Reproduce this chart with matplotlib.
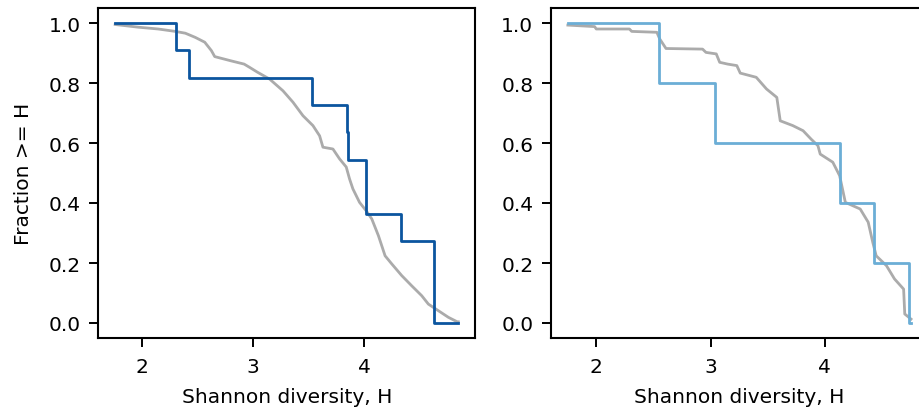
import matplotlib
matplotlib.use("Agg")
import matplotlib.pyplot as plt

# gray reference curves traced as (H, fraction >= H) vertices
left_gray_h = [1.758, 1.967, 2.146, 2.30, 2.39, 2.48, 2.565, 2.625, 2.655, 2.80, 2.92, 2.97,
               3.04, 3.15, 3.27, 3.36, 3.45, 3.54, 3.60, 3.63, 3.72, 3.78, 3.84, 3.87,
               3.90, 3.96, 4.02, 4.07, 4.13, 4.19, 4.25, 4.34, 4.43, 4.52, 4.58, 4.67,
               4.76, 4.84, 4.85]
left_gray_f = [0.995, 0.986, 0.980, 0.972, 0.966, 0.952, 0.936, 0.908, 0.888, 0.874, 0.863, 0.852,
               0.836, 0.813, 0.774, 0.736, 0.691, 0.658, 0.624, 0.586, 0.580, 0.547, 0.520, 0.480,
               0.447, 0.402, 0.374, 0.347, 0.291, 0.224, 0.197, 0.158, 0.124, 0.091, 0.063, 0.041,
               0.019, 0.004, 0.004]

right_gray_h = [1.751, 1.985, 2.0, 2.29, 2.31, 2.53, 2.555, 2.61, 2.93, 2.96, 3.05, 3.08,
                3.15, 3.23, 3.26, 3.40, 3.49, 3.58, 3.61, 3.72, 3.81, 3.88, 3.94, 3.96,
                4.07, 4.13, 4.18, 4.31, 4.38, 4.42, 4.45, 4.54, 4.61, 4.69, 4.70, 4.755]
right_gray_f = [0.993, 0.988, 0.980, 0.980, 0.972, 0.969, 0.947, 0.915, 0.913, 0.902, 0.897, 0.869,
                0.863, 0.858, 0.833, 0.819, 0.780, 0.752, 0.674, 0.658, 0.641, 0.613, 0.591, 0.563,
                0.536, 0.491, 0.402, 0.380, 0.336, 0.269, 0.224, 0.191, 0.147, 0.113, 0.030, 0.013]

# highlighted groups, step knots
left_blue_h = [1.758, 2.305, 2.42, 3.53, 3.85, 3.855, 4.02, 4.33, 4.63, 4.85]
left_blue_f = [1.0, 0.909, 0.818, 0.727, 0.636, 0.545, 0.364, 0.273, 0.0, 0.0]

right_blue_h = [1.751, 2.55, 3.04, 4.135, 4.43, 4.74, 4.755]
right_blue_f = [1.0, 0.8, 0.6, 0.4, 0.2, 0.0, 0.0]

plt.rcParams['font.family'] = 'DejaVu Sans'
plt.rcParams['font.size'] = 14.5
plt.rcParams['axes.linewidth'] = 1.5
plt.rcParams['xtick.major.size'] = 6.5
plt.rcParams['ytick.major.size'] = 6.5
plt.rcParams['xtick.major.width'] = 1.4
plt.rcParams['ytick.major.width'] = 1.4
plt.rcParams['xtick.major.pad'] = 7
plt.rcParams['ytick.major.pad'] = 6

W, H = 920, 414
fig = plt.figure(figsize=(W / 100, H / 100), dpi=100)
ax1 = fig.add_axes([98 / W, (H - 339) / H, 377.5 / W, 330 / H])
ax2 = fig.add_axes([550.7 / W, (H - 339) / H, 377.5 / W, 330 / H])

gray = '#ababab'
ax1.plot(left_gray_h, left_gray_f, color=gray, lw=2)
ax1.step(left_blue_h, left_blue_f, where='post', color='#0b559f', lw=2)
ax2.plot(right_gray_h, right_gray_f, color=gray, lw=2)
ax2.step(right_blue_h, right_blue_f, where='post', color='#6baed6', lw=2)

for ax in (ax1, ax2):
    ax.set_xlabel('Shannon diversity, H', labelpad=8)
    ax.set_xticks([2, 3, 4])
    ax.set_yticks([0.0, 0.2, 0.4, 0.6, 0.8, 1.0])
ax1.set_ylabel('Fraction >= H', labelpad=11)

fig.savefig('out.png', dpi=100)
